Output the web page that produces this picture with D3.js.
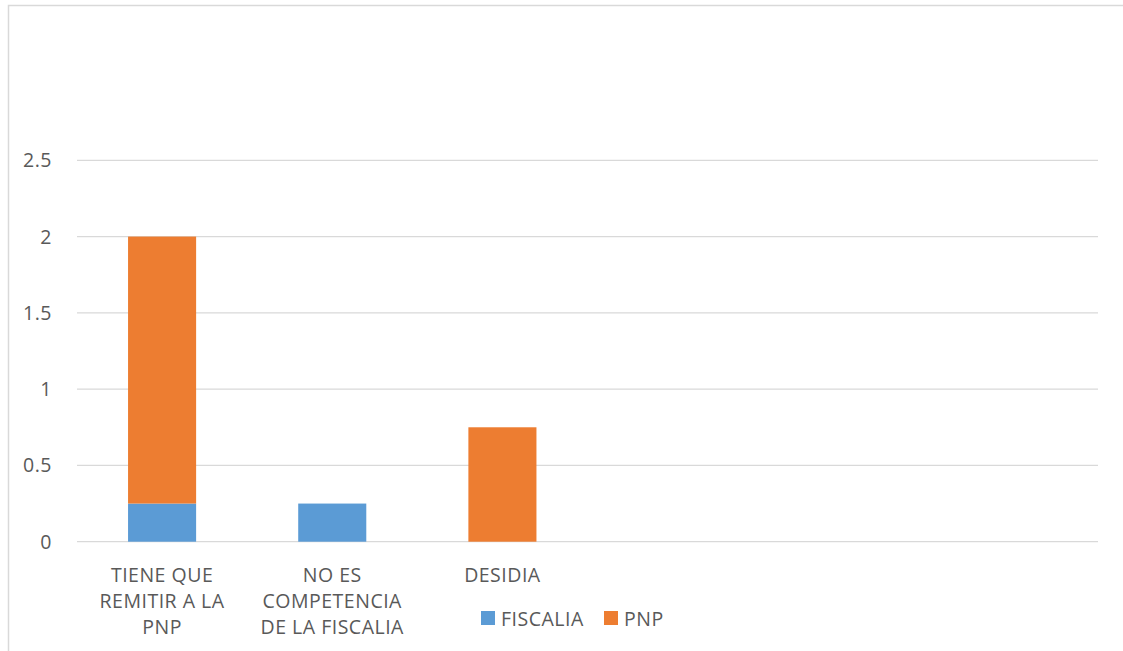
<!DOCTYPE html>
<html>
<head>
<meta charset="utf-8">
<script src="https://cdn.jsdelivr.net/npm/d3@7"></script>
<style>
  body { margin: 0; background: #fff; }
  svg text { font-family: "Open Sans", "Noto Sans", sans-serif; fill: #595959; letter-spacing: 0.5px; }
</style>
</head>
<body>
<svg id="chart" width="1123" height="651"></svg>
<script>
// data
var categories = ["TIENE QUE REMITIR A LA PNP", "NO ES COMPETENCIA DE LA FISCALIA", "DESIDIA", "", " ", "  "];
var seriesNames = ["FISCALIA", "PNP"];
var fiscalia = [0.25, 0.25, 0, 0, 0, 0];
var pnp = [1.75, 0, 0.75, 0, 0, 0];
var yTicks = [0, 0.5, 1, 1.5, 2, 2.5];
var colors = ["#5B9BD5", "#ED7D31"];

var svg = d3.select("svg#chart");
var left = 77, right = 1098, zeroY = 541.7, topY = 160.3;
var fontsize = 19.5;

// chart border
svg.append("rect")
    .attr("x", 8.5).attr("y", 5.5)
    .attr("width", 1125).attr("height", 660)
    .attr("fill", "none")
    .attr("stroke", "#d9d9d9")
    .attr("stroke-width", 1.5);

var xScale = d3.scaleBand()
    .domain(categories)
    .range([left, right])
    .paddingInner(0.6)
    .paddingOuter(0.3);

var yScale = d3.scaleLinear()
    .domain([0, 2.5])
    .range([zeroY, topY]);

// gridlines
svg.append("g")
    .selectAll("line")
    .data(yTicks)
    .join("line")
    .attr("x1", left)
    .attr("x2", right)
    .attr("y1", function(d){ return yScale(d); })
    .attr("y2", function(d){ return yScale(d); })
    .attr("stroke", "#d9d9d9")
    .attr("stroke-width", 1.2);

// y labels
svg.append("g")
    .selectAll("text")
    .data(yTicks)
    .join("text")
    .text(function(d){ return d; })
    .attr("x", 52)
    .attr("y", function(d){ return yScale(d) + 7; })
    .attr("text-anchor", "end")
    .attr("font-size", fontsize);

// stacked bars
var table = categories.map(function(c, i){
    return {cat: c, FISCALIA: fiscalia[i], PNP: pnp[i]};
});
var stacked = d3.stack().keys(seriesNames)(table);

svg.append("g")
    .selectAll("g")
    .data(stacked)
    .join("g")
    .attr("fill", function(d, i){ return colors[i]; })
    .selectAll("rect")
    .data(function(d){ return d.filter(function(p){ return p[1] - p[0] > 0; }); })
    .join("rect")
    .attr("x", function(d){ return xScale(d.data.cat); })
    .attr("width", xScale.bandwidth())
    .attr("y", function(d){ return yScale(d[1]); })
    .attr("height", function(d){ return yScale(d[0]) - yScale(d[1]); });

// category labels, wrapped
var maxW = 160;
var labels = svg.append("g");
categories.forEach(function(c){
    if (c.trim() == "") return;
    var cx = xScale(c) + xScale.bandwidth() / 2;
    var t = labels.append("text")
        .attr("text-anchor", "middle")
        .attr("font-size", fontsize);
    var words = c.split(" "), line = [], lines = [];
    var probe = labels.append("text").attr("font-size", fontsize);
    words.forEach(function(w){
        var test = line.concat([w]).join(" ");
        probe.text(test);
        if (probe.node().getComputedTextLength() > maxW && line.length) {
            lines.push(line.join(" "));
            line = [w];
        } else {
            line.push(w);
        }
    });
    lines.push(line.join(" "));
    probe.remove();
    lines.forEach(function(l, i){
        t.append("tspan").attr("x", cx).attr("y", 582 + i * 26).text(l);
    });
});

// legend
var legend = svg.append("g");
var legendX = [481, 604];
seriesNames.forEach(function(s, i){
    legend.append("rect")
        .attr("x", legendX[i]).attr("y", 611)
        .attr("width", 14).attr("height", 14)
        .attr("fill", colors[i]);
    legend.append("text")
        .attr("x", legendX[i] + 20).attr("y", 626)
        .attr("font-size", fontsize)
        .text(s);
});
</script>
</body>
</html>
